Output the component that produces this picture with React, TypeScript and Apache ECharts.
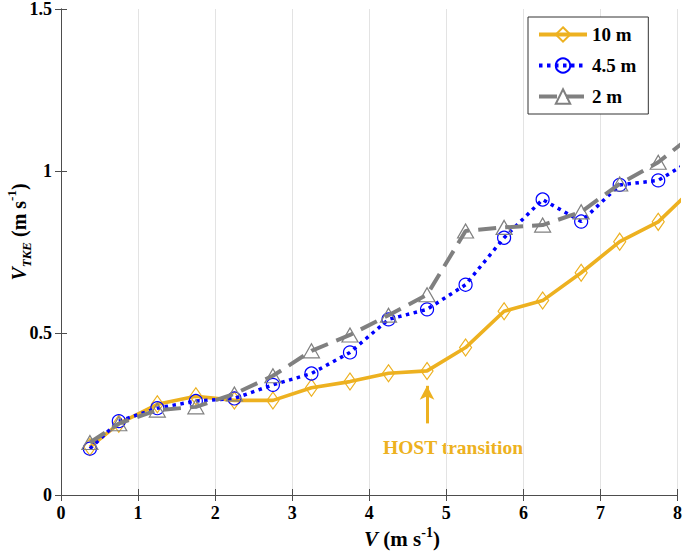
import React, { useEffect, useRef } from "react";
import * as echarts from "echarts";

const xValues = [0.375, 0.75, 1.25, 1.75, 2.25, 2.75, 3.25, 3.75, 4.25, 4.75, 5.25, 5.75, 6.25, 6.75, 7.25, 7.75, 8.25];
const v10m = [0.148, 0.22, 0.28, 0.305, 0.292, 0.292, 0.331, 0.35, 0.376, 0.383, 0.455, 0.567, 0.6, 0.686, 0.782, 0.843, 0.957];
const v45m = [0.143, 0.228, 0.268, 0.29, 0.298, 0.34, 0.375, 0.44, 0.542, 0.573, 0.649, 0.794, 0.912, 0.844, 0.957, 0.971, 1.043];
const v2m = [0.162, 0.22, 0.262, 0.272, 0.312, 0.368, 0.445, 0.494, 0.555, 0.618, 0.815, 0.826, 0.833, 0.874, 0.96, 1.027, 1.121];
const seriesNames = ["10 m", "4.5 m", "2 m"];
const xTicks = [0, 1, 2, 3, 4, 5, 6, 7, 8];
const yTicks = [0, 0.5, 1, 1.5];
const arrowX = 4.75;
const arrowFrom = 0.221;
const arrowTo = 0.337;
const annotation = "HOST transition";

const FONT = "Liberation Serif";
const ORANGE = "#EDB120";
const BLUE = "#0000FF";
const GRAY = "#808080";
const AXIS = "#4d4d4d";

export default function App() {
  const ref = useRef<HTMLDivElement>(null);
  useEffect(() => {
    document.body.style.margin = "0";
    if (!ref.current) return;
    const chart = echarts.init(ref.current, undefined, { renderer: "svg" });
    const pair = (vals: number[]) => xValues.map((x, i) => [x, vals[i]]);
    const tickLabel = {
      fontFamily: FONT,
      fontWeight: "bold" as const,
      fontSize: 18,
      color: "#000",
    };
    const baseAxis = {
      min: 0,
      axisLine: { show: true, lineStyle: { color: AXIS, width: 1 } },
      axisTick: { show: true, inside: true, length: 6, lineStyle: { color: AXIS } },
    };
    chart.setOption({
      animation: false,
      backgroundColor: "#fff",
      textStyle: { fontFamily: FONT },
      grid: { left: 61, right: 6, top: 6, bottom: 62, containLabel: false },
      xAxis: [
        {
          ...baseAxis,
          type: "value",
          max: 8,
          interval: 1,
          position: "bottom",
          axisLabel: {
            ...tickLabel,
            margin: 9,
            formatter: (v: number) => (xTicks.includes(v) ? String(v) : ""),
          },
          splitLine: { show: true, lineStyle: { color: "#e3e3e3", width: 1 } },
        },
        {
          ...baseAxis,
          type: "value",
          max: 8,
          interval: 1,
          position: "top",
          axisLabel: { show: false },
          splitLine: { show: false },
        },
      ],
      yAxis: [
        {
          ...baseAxis,
          type: "value",
          max: 1.5,
          interval: 0.5,
          position: "left",
          axisLabel: {
            ...tickLabel,
            margin: 9,
            formatter: (v: number) => (yTicks.includes(v) ? String(v) : ""),
          },
          splitLine: { show: false },
        },
        {
          ...baseAxis,
          type: "value",
          max: 1.5,
          interval: 0.5,
          position: "right",
          axisLabel: { show: false },
          splitLine: { show: false },
        },
      ],
      legend: {
        orient: "vertical",
        left: 528,
        top: 17,
        padding: [8, 12, 8, 9],
        itemGap: 12,
        itemWidth: 48,
        itemHeight: 18,
        itemTextGap: 6,
        borderColor: "#333",
        borderWidth: 1,
        backgroundColor: "#fff",
        data: [
          { name: seriesNames[0], lineStyle: { width: 4 } },
          { name: seriesNames[1], lineStyle: { width: 4 } },
          { name: seriesNames[2], lineStyle: { width: 4 } },
        ],
        textStyle: { fontFamily: FONT, fontWeight: "bold", fontSize: 19, color: "#000" },
      },
      series: [
        {
          name: seriesNames[0],
          type: "line",
          data: pair(v10m),
          clip: true,
          symbol: "diamond",
          symbolSize: [12, 17],
          lineStyle: { color: ORANGE, width: 3.6, type: "solid" },
          itemStyle: { color: "rgba(255,255,255,0)", borderColor: ORANGE, borderWidth: 1.2 },
          z: 2,
          markLine: {
            silent: true,
            symbol: ["none", "arrow"],
            symbolSize: [11, 14],
            lineStyle: { color: ORANGE, width: 3, type: "solid" },
            label: { show: false },
            data: [[{ coord: [arrowX, arrowFrom] }, { coord: [arrowX, arrowTo] }]],
          },
        },
        {
          name: seriesNames[1],
          type: "line",
          data: pair(v45m),
          clip: true,
          symbol: "circle",
          symbolSize: 13,
          lineStyle: { color: BLUE, width: 3.5, type: [3.5, 4.5], cap: "butt" },
          itemStyle: { color: "rgba(255,255,255,0)", borderColor: BLUE, borderWidth: 1.2 },
          z: 3,
        },
        {
          name: seriesNames[2],
          type: "line",
          data: pair(v2m),
          clip: true,
          symbol: "triangle",
          symbolSize: [16, 14],
          lineStyle: { color: GRAY, width: 4, type: [18, 9], cap: "butt" },
          itemStyle: { color: "rgba(255,255,255,0)", borderColor: GRAY, borderWidth: 1.2 },
          z: 4,
        },
      ],
      graphic: [
        {
          type: "text",
          x: 19,
          y: 232,
          rotation: Math.PI / 2,
          style: {
            text: "{v|V}{sub|TKE}{n| (m s}{sup|-1}{n|)}",
            align: "center",
            verticalAlign: "middle",
            rich: {
              v: { fontFamily: FONT, fontWeight: "bold", fontStyle: "italic", fontSize: 20, lineHeight: 28, fill: "#000" },
              sub: { fontFamily: FONT, fontWeight: "bold", fontStyle: "italic", fontSize: 13, lineHeight: 13, verticalAlign: "bottom", fill: "#000" },
              n: { fontFamily: FONT, fontWeight: "bold", fontSize: 20, lineHeight: 28, fill: "#000" },
              sup: { fontFamily: FONT, fontWeight: "bold", fontSize: 13, lineHeight: 13, verticalAlign: "top", fill: "#000" },
            },
          },
        },
        {
          type: "text",
          x: 402,
          y: 539,
          style: {
            text: "{v|V}{n| (m s}{sup|-1}{n|)}",
            align: "center",
            verticalAlign: "middle",
            rich: {
              v: { fontFamily: FONT, fontWeight: "bold", fontStyle: "italic", fontSize: 21, lineHeight: 28, fill: "#000" },
              n: { fontFamily: FONT, fontWeight: "bold", fontSize: 21, lineHeight: 28, fill: "#000" },
              sup: { fontFamily: FONT, fontWeight: "bold", fontSize: 14, lineHeight: 14, verticalAlign: "top", fill: "#000" },
            },
          },
        },
        {
          type: "text",
          x: 453,
          y: 447,
          style: {
            text: annotation,
            align: "center",
            verticalAlign: "middle",
            fontFamily: FONT,
            fontWeight: "bold",
            fontSize: 19.5,
            fill: ORANGE,
          },
        },
      ],
    });
    return () => chart.dispose();
  }, []);
  return <div ref={ref} style={{ width: 685, height: 557 }} />;
}
